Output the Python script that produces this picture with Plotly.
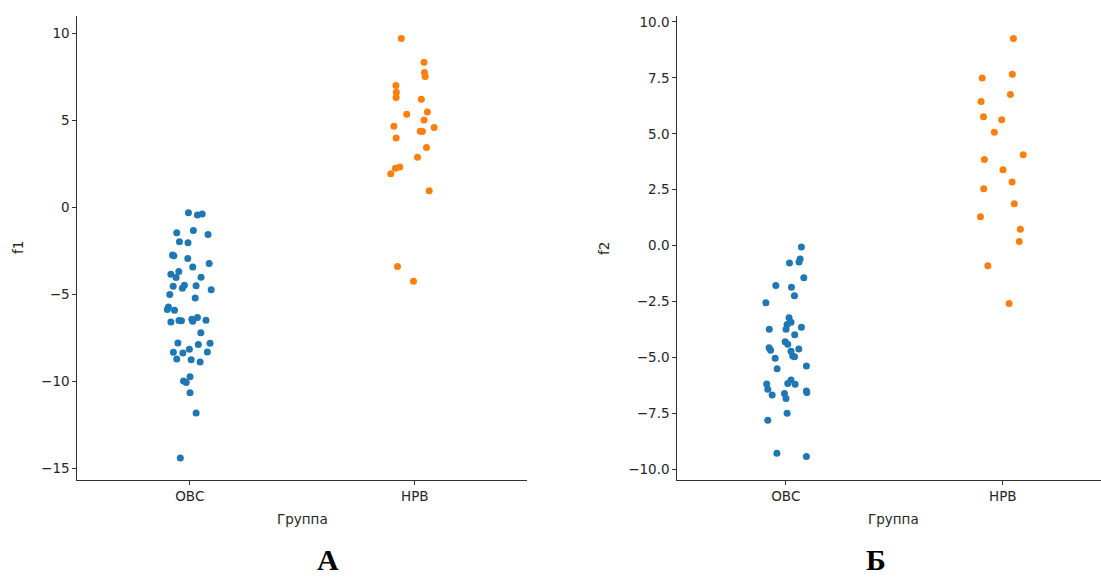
import plotly.graph_objects as go

W, H = 1101, 577

categories = ["ОВС", "НРВ"]

# Panel A (f1)
f1_ovs = [-0.32, -0.45, -0.39, -1.47, -1.33, -1.56, -1.99, -2.04, -2.75, -2.79,
          -2.94, -3.23, -3.43, -3.69, -3.85, -4.04, -4.02, -4.54, -4.48, -4.65,
          -4.52, -4.75, -5.01, -5.21, -5.73, -5.88, -5.92, -6.59, -6.51, -6.53,
          -6.44, -6.55, -6.34, -6.49, -7.21, -7.80, -7.89, -7.82, -8.34, -8.38,
          -8.16, -8.32, -8.72, -8.76, -8.89, -9.99, -10.08, -9.74, -10.66, -11.83,
          -14.42]
f1_ovs_jit = [-0.006, 0.034, 0.055, -0.058, 0.016, 0.081, -0.046, -0.008, -0.077, -0.071,
              -0.009, 0.086, 0.013, -0.049, -0.084, -0.061, 0.050, -0.074, -0.024, -0.033,
              0.028, 0.095, -0.089, 0.024, -0.095, -0.100, -0.068, -0.084, -0.048, -0.037,
              0.009, 0.013, 0.034, 0.072, 0.049, -0.053, 0.038, 0.090, -0.073, -0.031,
              -0.002, 0.078, -0.058, 0.006, 0.046, -0.028, -0.016, 0.001, 0.001, 0.028,
              -0.042]
f1_nrv = [9.70, 8.34, 7.74, 7.51, 7.00, 6.61, 6.31, 6.21, 5.35, 5.48,
          5.02, 4.66, 4.58, 4.37, 4.35, 3.98, 3.43, 2.87, 2.31, 2.24,
          1.93, 0.95, -3.40, -4.25]
f1_nrv_jit = [-0.060, 0.041, 0.043, 0.046, -0.084, -0.082, -0.083, 0.029, -0.036, 0.056,
              0.041, -0.093, 0.086, 0.024, 0.034, -0.083, 0.052, 0.012, -0.067, -0.086,
              -0.107, 0.064, -0.077, -0.006]

# Panel Б (f2)
f2_ovs = [-0.06, -0.59, -0.73, -0.77, -1.43, -1.78, -1.86, -2.24, -2.55, -3.22,
          -3.42, -3.52, -3.73, -3.74, -3.64, -3.98, -4.29, -4.41, -4.56, -4.67,
          -4.72, -4.62, -5.03, -4.93, -4.96, -5.38, -5.50, -6.00, -6.16, -6.19,
          -6.18, -6.42, -6.67, -6.61, -6.83, -6.49, -6.56, -7.49, -7.80, -9.28,
          -9.42]
f2_ovs_jit = [0.072, 0.066, 0.061, 0.017, 0.083, -0.046, 0.026, 0.040, -0.092, 0.015,
              0.024, 0.006, -0.076, 0.001, 0.072, 0.041, -0.003, 0.009, -0.077, -0.070,
              0.024, 0.060, -0.049, 0.032, 0.040, 0.095, -0.040, 0.024, 0.009, 0.043,
              -0.088, -0.083, -0.063, -0.006, 0.001, 0.095, 0.097, 0.006, -0.083, -0.041,
              0.095]
f2_nrv = [9.26, 7.66, 7.49, 6.76, 6.45, 5.76, 5.63, 5.07, 4.06, 3.85,
          3.40, 2.85, 2.55, 1.87, 1.29, 0.73, 0.19, -0.90, -2.58]
f2_nrv_jit = [0.049, 0.044, -0.095, 0.035, -0.100, -0.089, -0.005, -0.039, 0.094, -0.085,
              0.001, 0.043, -0.088, 0.053, -0.103, 0.081, 0.076, -0.069, 0.029]

f1_ticks = [-15, -10, -5, 0, 5, 10]
f1_ticktext = ["−15", "−10", "−5", "0", "5", "10"]
f2_ticks = [-10.0, -7.5, -5.0, -2.5, 0.0, 2.5, 5.0, 7.5, 10.0]
f2_ticktext = ["−10.0", "−7.5", "−5.0", "−2.5", "0.0", "2.5", "5.0", "7.5", "10.0"]

BLUE = "#1f77b4"
ORANGE = "#ff7f0e"
TXT = "#262626"
LINE = "#333333"
FONT = "DejaVu Sans"


def px(x):
    return x / W


def py(y):
    return 1 - y / H


fig = go.Figure()


def add(vals, jit, idx, color, xa, ya):
    fig.add_trace(go.Scatter(
        x=[idx + j for j in jit], y=vals, mode="markers",
        marker=dict(color=color, size=7, line=dict(width=0)),
        xaxis=xa, yaxis=ya, showlegend=False, hoverinfo="y"))


add(f1_ovs, f1_ovs_jit, 0, BLUE, "x", "y")
add(f1_nrv, f1_nrv_jit, 1, ORANGE, "x", "y")
add(f2_ovs, f2_ovs_jit, 0, BLUE, "x2", "y2")
add(f2_nrv, f2_nrv_jit, 1, ORANGE, "x2", "y2")

ydom = [py(479.5), py(15.7)]

common_axis = dict(showgrid=False, zeroline=False, showline=True, linecolor=LINE,
                   linewidth=1, ticks="outside", ticklen=4, tickwidth=1, automargin=False,
                   tickcolor=LINE, tickfont=dict(family=FONT, size=13.5, color=TXT))

fig.update_layout(
    width=W, height=H,
    margin=dict(l=0, r=0, t=0, b=0, autoexpand=False),
    paper_bgcolor="white", plot_bgcolor="white",
    xaxis=dict(domain=[px(77.3), px(527.3)], range=[-0.5, 1.5],
               tickvals=[0, 1], ticktext=categories, anchor="y", **common_axis),
    yaxis=dict(domain=ydom, range=[-15.65, 11.01], tickvals=f1_ticks,
               ticktext=f1_ticktext, anchor="x", **common_axis),
    xaxis2=dict(domain=[px(677.3), 1.0], range=[-0.5, -0.5 + (W - 677.3) / 217],
                tickvals=[0, 1], ticktext=categories, anchor="y2", **common_axis),
    yaxis2=dict(domain=ydom, range=[-10.45, 10.28], tickvals=f2_ticks,
                ticktext=f2_ticktext, anchor="x2", **common_axis),
)

ann = []
for (x, y, t, rot) in [(18, 248, "f1", -90), (604, 249, "f2", -90),
                       (302, 519, "Группа", 0), (893, 519, "Группа", 0)]:
    ann.append(dict(xref="paper", yref="paper", x=px(x), y=py(y), text=t,
                    showarrow=False, textangle=rot, xanchor="center", yanchor="middle",
                    font=dict(family=FONT, size=13.5, color=TXT)))
for (x, y, t) in [(328, 559, "А"), (876, 559, "Б")]:
    ann.append(dict(xref="paper", yref="paper", x=px(x), y=py(y), text="<b>" + t + "</b>",
                    showarrow=False, xanchor="center", yanchor="middle",
                    font=dict(family="Liberation Serif", size=30, color="black")))
fig.update_layout(annotations=ann)

fig.write_html("out.html", config={"displayModeBar": False},
               post_script="document.body.style.margin='0';document.body.style.overflow='hidden';")
